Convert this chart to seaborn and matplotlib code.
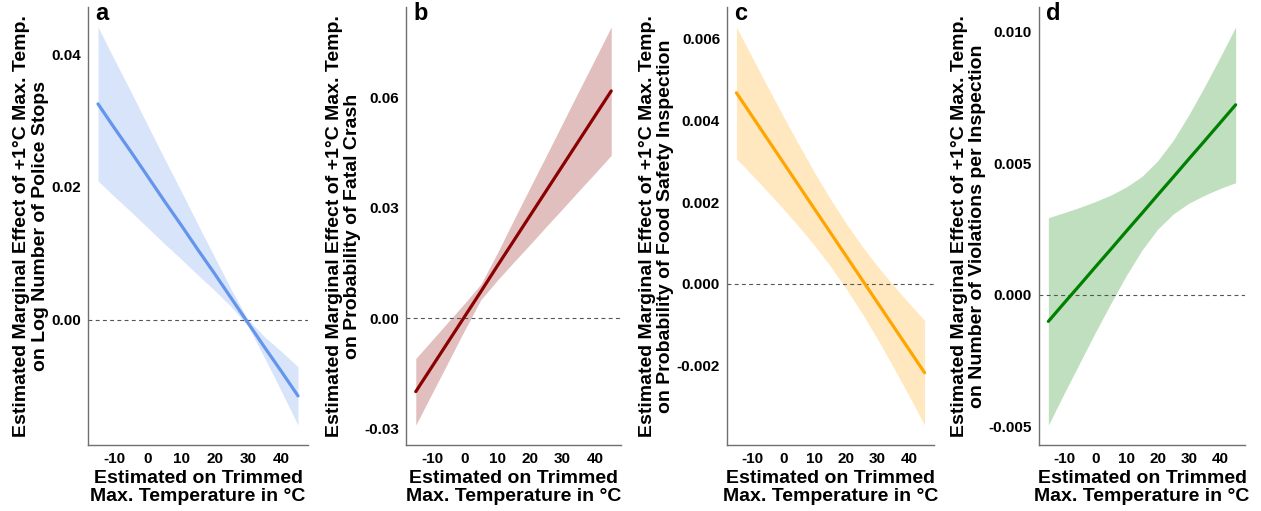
import numpy as np
import pandas as pd
import matplotlib
matplotlib.use("Agg")
import matplotlib.pyplot as plt
import seaborn as sns

# temperature grid (°C) the effects were read at
temp = [-15, -10, -5, 0, 5, 10, 15, 20, 25, 30, 35, 40, 45]

# a: police stops
police_est = [0.0325, 0.0288, 0.0252, 0.0215, 0.0178, 0.0142, 0.0105, 0.0069, 0.0032, -0.0005, -0.0042, -0.0078, -0.0115]
police_lo = [0.0209, 0.0185, 0.0162, 0.0138, 0.0114, 0.0091, 0.0067, 0.0044, 0.0019, -0.0010, -0.0058, -0.0108, -0.0159]
police_hi = [0.0441, 0.0391, 0.0342, 0.0292, 0.0242, 0.0193, 0.0143, 0.0094, 0.0045, 0.0000, -0.0026, -0.0048, -0.0071]

# b: fatal crash
crash_est = [-0.0199, -0.0131, -0.0063, 0.0005, 0.0073, 0.0142, 0.0210, 0.0278, 0.0346, 0.0414, 0.0482, 0.0550, 0.0618]
crash_lo = [-0.0290, -0.0204, -0.0118, -0.0032, 0.0051, 0.0103, 0.0152, 0.0200, 0.0249, 0.0297, 0.0346, 0.0394, 0.0443]
crash_hi = [-0.0109, -0.0059, -0.0009, 0.0041, 0.0093, 0.0177, 0.0266, 0.0354, 0.0441, 0.0529, 0.0617, 0.0704, 0.0792]

# c: food safety inspection
food_est = [0.00467, 0.00410, 0.00353, 0.00296, 0.00239, 0.00182, 0.00125, 0.00068, 0.00011, -0.00046, -0.00103, -0.00160, -0.00217]
food_lo = [0.00306, 0.00266, 0.00225, 0.00183, 0.00139, 0.00093, 0.00043, -0.00012, -0.00071, -0.00135, -0.00203, -0.00273, -0.00345]
food_hi = [0.00628, 0.00554, 0.00481, 0.00409, 0.00339, 0.00271, 0.00207, 0.00148, 0.00093, 0.00043, -0.00003, -0.00047, -0.00089]

# d: violations per inspection
viol_est = [-0.00101, -0.00032, 0.00036, 0.00105, 0.00173, 0.00242, 0.00310, 0.00379, 0.00447, 0.00516, 0.00584, 0.00653, 0.00722]
viol_lo = [-0.00495, -0.00376, -0.00260, -0.00144, -0.00033, 0.00074, 0.00170, 0.00249, 0.00307, 0.00348, 0.00378, 0.00404, 0.00426]
viol_hi = [0.00293, 0.00312, 0.00332, 0.00354, 0.00379, 0.00410, 0.00450, 0.00509, 0.00587, 0.00684, 0.00790, 0.00902, 0.01018]

x_ticks = [-10, 0, 10, 20, 30, 40]

panels = [
    ("a", "on Log Number of Police Stops", police_est, police_lo, police_hi,
     "#6495ED", [0.00, 0.02, 0.04], "{:.2f}"),
    ("b", "on Probability of Fatal Crash", crash_est, crash_lo, crash_hi,
     "#8B0000", [-0.03, 0.00, 0.03, 0.06], "{:.2f}"),
    ("c", "on Probability of Food Safety Inspection", food_est, food_lo, food_hi,
     "#FFA500", [-0.002, 0.000, 0.002, 0.004, 0.006], "{:.3f}"),
    ("d", "on Number of Violations per Inspection", viol_est, viol_lo, viol_hi,
     "#008000", [-0.005, 0.000, 0.005, 0.010], "{:.3f}"),
]

sns.set_theme(style="white")
plt.rcParams["font.family"] = ["Liberation Sans", "DejaVu Sans"]
plt.rcParams["text.color"] = "black"
plt.rcParams["axes.labelcolor"] = "black"

fig = plt.figure(figsize=(12.61, 5.11), dpi=100)
W, H = 1261, 511
boxes = [(88, 220), (406, 215), (727, 207), (1039, 206)]
top, bottom = 7, 445

for (tag, ylab2, est, lo, hi, col, yt, fmt), (left, width) in zip(panels, boxes):
    ax = fig.add_axes([left / W, (H - bottom) / H, width / W, (bottom - top) / H])
    df = pd.DataFrame({"temp": temp, "est": est, "lo": lo, "hi": hi})
    ax.fill_between(df["temp"], df["lo"], df["hi"], color=col, alpha=0.25, lw=0)
    ax.axhline(0, color="#555555", lw=0.8, ls=(0, (3.5, 3)), zorder=1)
    sns.lineplot(data=df, x="temp", y="est", color=col, lw=2.3, ax=ax, zorder=3)

    ax.set_xticks(x_ticks)
    ax.set_xticklabels([str(t) for t in x_ticks])
    ax.set_yticks(yt)
    ax.set_yticklabels([fmt.format(v) for v in yt])
    ax.tick_params(length=0, labelsize=11, pad=5, labelcolor="black")
    for lab in ax.get_xticklabels() + ax.get_yticklabels():
        lab.set_fontweight("bold")

    ax.set_xlabel("Estimated on Trimmed\nMax. Temperature in °C",
                  fontsize=14, fontweight="bold", linespacing=1.1, labelpad=3)
    ax.set_ylabel("Estimated Marginal Effect of +1°C Max. Temp.\n" + ylab2,
                  fontsize=14, fontweight="bold", linespacing=1.1, labelpad=2)

    for side in ["top", "right"]:
        ax.spines[side].set_visible(False)
    for side in ["left", "bottom"]:
        ax.spines[side].set_color("#707070")
        ax.spines[side].set_linewidth(1.0)

    ax.text(0.035, 0.97, tag, transform=ax.transAxes, fontsize=17,
            fontweight="bold", va="baseline", ha="left", color="black")

fig.savefig("out.png", dpi=100)
